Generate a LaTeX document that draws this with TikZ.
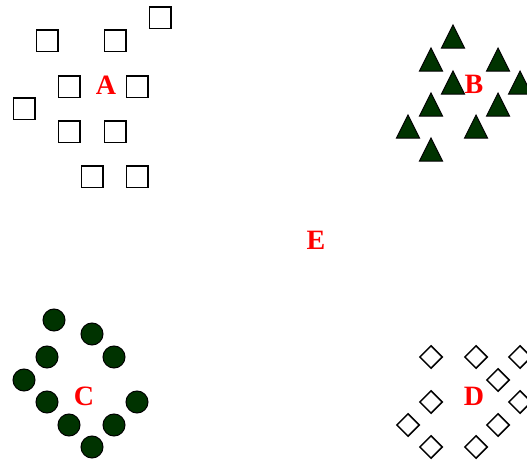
\documentclass[tikz,border=0pt]{standalone}
\usepackage{fontspec}
\setmainfont{Liberation Serif}
\usepackage{xcolor}
\usetikzlibrary{shapes.geometric}
\definecolor{darkleaf}{HTML}{003300}

\begin{document}
\begin{tikzpicture}[x=1pt, y=-1pt,
    sq/.style={draw, line width=1.5pt, minimum size=21.5pt, inner sep=0pt},
    tri/.style={draw, fill=darkleaf, line width=1pt, isosceles triangle,
                shape border rotate=90, isosceles triangle stretches,
                minimum width=23pt, minimum height=23pt, inner sep=0pt},
    dot/.style={draw, fill=darkleaf, line width=1pt, circle,
                minimum size=22pt, inner sep=0pt},
    dia/.style={draw, line width=1.5pt, diamond, aspect=1,
                minimum size=23pt, inner sep=0pt},
    lbl/.style={text=red, font=\fontsize{28}{30}\selectfont\bfseries, inner sep=0pt}
  ]
  \useasboundingbox (0,0) rectangle (527,462);
  % cluster A: squares
  \foreach \x/\y [count=\i] in {160/18, 47/41, 115/41, 69/87, 137/87,
                                24/109, 69/132, 115/132, 92/177, 137/177}
    \node[sq] (a\i) at (\x,\y) {};
  % cluster B: triangles
  \foreach \x/\y [count=\i] in {453/41, 431/64, 498/64, 453/87, 520/87,
                                431/109, 498/109, 408/131, 476/131, 431/154}
    \node[tri] (b\i) at (\x,\y) {};
  % cluster C: circles
  \foreach \x/\y [count=\i] in {54/320, 92/334, 47/357, 114/357, 24/380,
                                47/402, 137/402, 69/425, 114/425, 92/447}
    \node[dot] (c\i) at (\x,\y) {};
  % cluster D: diamonds
  \foreach \x/\y [count=\i] in {431/357, 476/357, 520/357, 498/380, 431/402,
                                520/402, 408/425, 498/425, 431/447, 476/447}
    \node[dia] (d\i) at (\x,\y) {};
  \node[lbl] (labA) at (106,85)  {A};
  \node[lbl] (labB) at (474,84)  {B};
  \node[lbl] (labC) at (84,396)  {C};
  \node[lbl] (labD) at (474,396) {D};
  \node[lbl] (labE) at (316,240) {E};
\end{tikzpicture}
\end{document}
